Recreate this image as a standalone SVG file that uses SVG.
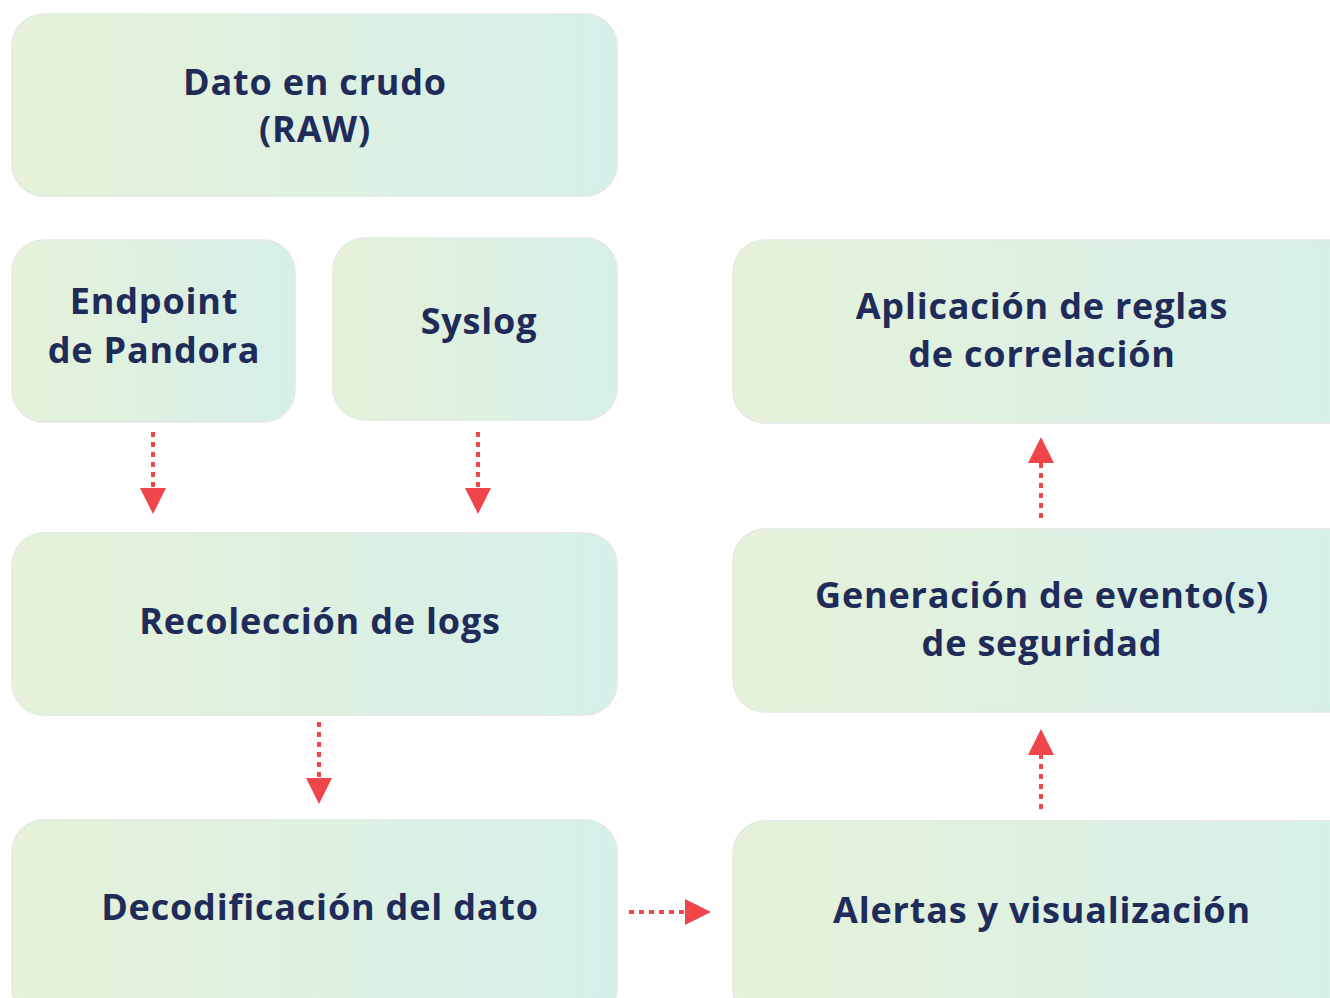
<svg xmlns="http://www.w3.org/2000/svg" width="1330" height="998" viewBox="0 0 1330 998">
<defs>
<linearGradient id="g" x1="0" y1="0" x2="1" y2="0">
<stop offset="0" stop-color="#e6f2d9"/>
<stop offset="1" stop-color="#d5efea"/>
</linearGradient>
<marker id="ah" viewBox="0 0 10 10" refX="0" refY="5" markerWidth="6.5" markerHeight="6.5" markerUnits="strokeWidth" orient="auto">
<path d="M0,0 L10,5 L0,10 Z" fill="#f0454b"/>
</marker>
</defs>
<style>
.box{fill:url(#g);stroke:#e4e9e4;stroke-width:1.5}
.t{font-family:"Open Sans","Liberation Sans",sans-serif;font-weight:700;font-size:36px;letter-spacing:0.8px;fill:#1f2b58;text-anchor:middle}
.c{stroke:#f0454b;stroke-width:4;stroke-dasharray:5 5;fill:none}
</style>
<g id="raw"><rect class="box" x="12" y="14" width="605" height="182" rx="32"/>
<text class="t" x="315" y="95">Dato en crudo</text><text class="t" x="315" y="142">(RAW)</text></g>
<g id="endpoint"><rect class="box" x="12" y="240" width="283" height="182" rx="32"/>
<text class="t" x="154" y="314">Endpoint</text><text class="t" x="154" y="363">de Pandora</text></g>
<g id="syslog"><rect class="box" x="333" y="238" width="284" height="182" rx="32"/>
<text class="t" x="479" y="334">Syslog</text></g>
<g id="recoleccion"><rect class="box" x="12" y="533" width="605" height="182" rx="32"/>
<text class="t" x="320" y="634">Recolección de logs</text></g>
<g id="decodificacion"><rect class="box" x="12" y="820" width="605" height="200" rx="32"/>
<text class="t" x="320" y="920">Decodificación del dato</text></g>
<g id="aplicacion"><rect class="box" x="733" y="240" width="630" height="183" rx="32"/>
<text class="t" x="1042" y="319">Aplicación de reglas</text><text class="t" x="1042" y="367">de correlación</text></g>
<g id="generacion"><rect class="box" x="733" y="529" width="630" height="183" rx="32"/>
<text class="t" x="1042" y="608">Generación de evento(s)</text><text class="t" x="1042" y="656">de seguridad</text></g>
<g id="alertas"><rect class="box" x="733" y="821" width="630" height="200" rx="32"/>
<text class="t" x="1042" y="923">Alertas y visualización</text></g>
<g id="connectors">
<path class="c" d="M153,432 L153,488" marker-end="url(#ah)"/>
<path class="c" d="M478,432 L478,488" marker-end="url(#ah)"/>
<path class="c" d="M319,722 L319,778" marker-end="url(#ah)"/>
<path class="c" d="M629,912 L685,912" marker-end="url(#ah)"/>
<path class="c" d="M1041,518 L1041,463" marker-end="url(#ah)"/>
<path class="c" d="M1041,809 L1041,755" marker-end="url(#ah)"/>
</g>
</svg>
